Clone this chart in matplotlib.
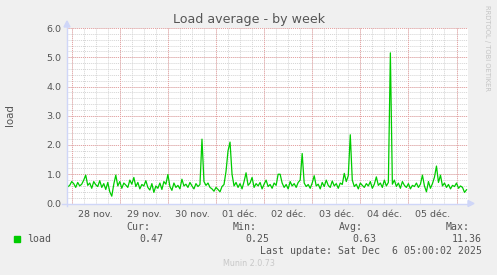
import matplotlib
matplotlib.use("Agg")
import matplotlib.pyplot as plt
from matplotlib.lines import Line2D
from matplotlib.patches import Polygon

# hourly load values, first sample 2 h before 28 nov. 00:00
load = [
    0.57, 0.62, 0.75, 0.68, 0.55, 0.72, 0.60, 0.66, 0.80, 0.97,
    0.62, 0.70, 0.52, 0.75, 0.64, 0.58, 0.78, 0.55, 0.68, 0.48,
    0.72, 0.40, 0.25, 0.66, 0.97, 0.60, 0.75, 0.52, 0.70, 0.63,
    0.55, 0.80, 0.66, 0.89, 0.58, 0.72, 0.50, 0.65, 0.60, 0.78,
    0.55, 0.46, 0.68, 0.38, 0.60, 0.52, 0.70, 0.48, 0.75, 0.66,
    0.99, 0.58, 0.45, 0.70, 0.55, 0.62, 0.50, 0.83, 0.60, 0.66,
    0.55, 0.72, 0.60, 0.50, 0.68, 0.58, 0.65, 2.20, 0.75, 0.62,
    0.70, 0.55, 0.50, 0.42, 0.55, 0.48, 0.40, 0.58, 0.65, 1.10,
    1.80, 2.10, 1.00, 0.60, 0.72, 0.55, 0.68, 0.50, 0.75, 1.05,
    0.62, 0.70, 0.89, 0.55, 0.68, 0.60, 0.72, 0.50, 0.66, 0.80,
    0.58, 0.65, 0.52, 0.70, 0.62, 1.00, 1.00, 0.70, 0.55, 0.65,
    0.50, 0.75, 0.60, 0.68, 0.55, 0.72, 0.80, 1.71, 0.70, 0.58,
    0.65, 0.52, 0.70, 0.95, 0.60, 0.66, 0.50, 0.72, 0.58, 0.80,
    0.62, 0.55, 0.77, 0.60, 0.68, 0.52, 0.70, 0.65, 1.03, 0.75,
    0.95, 2.35, 0.80, 0.58, 0.66, 0.50, 0.70, 0.62, 0.55, 0.68,
    0.60, 0.75, 0.52, 0.66, 0.91, 0.62, 0.70, 0.55, 0.80, 0.60,
    0.72, 5.15, 0.66, 0.80, 0.58, 0.70, 0.52, 0.75, 0.62, 0.55,
    0.68, 0.50, 0.62, 0.58, 0.70, 0.55, 0.66, 0.97, 0.60, 0.40,
    0.75, 0.52, 0.68, 0.90, 1.28, 0.72, 0.97, 0.60, 0.70, 0.55,
    0.65, 0.50, 0.62, 0.58, 0.70, 0.52, 0.60, 0.55, 0.38, 0.47,
]
day_labels = ["28 nov.", "29 nov.", "30 nov.", "01 déc.",
              "02 déc.", "03 déc.", "04 déc.", "05 déc."]
y_labels = ["0.0", "1.0", "2.0", "3.0", "4.0", "5.0", "6.0"]
stats_names = ["Cur:", "Min:", "Avg:", "Max:"]
stats_values = ["0.47", "0.25", "0.63", "11.36"]

W, H = 497, 275
def fx(px):
    return px / W
def fy(py):
    return 1 - py / H

txt = "#555555"
fig = plt.figure(figsize=(W / 100, H / 100), dpi=100, facecolor="#f0f0f0")
ax = fig.add_axes([fx(67), fy(203.5), 401 / W, 175.5 / H])
ax.set_facecolor("white")

t = [(i - 2) / 24 for i in range(len(load))]
ax.set_xlim(-0.0977, 8.239)
ax.set_ylim(0, 6)

# minor grid
dot = (0, (1, 1))
for k in range(-1, 34):
    ax.axvline(k / 4, color="#d4d4d4", lw=0.7, ls=dot, zorder=0)
for k in range(31):
    ax.axhline(k * 0.2, color="#d4d4d4", lw=0.7, ls=dot, zorder=0)
# major grid
for d in range(9):
    ax.axvline(d, color="#e8a0a0", lw=0.7, ls=dot, zorder=1)
for v in range(7):
    ax.axhline(v, color="#e8a0a0", lw=0.7, ls=dot, zorder=1)

ax.plot(t, load, color="#00cc00", lw=0.9, zorder=3)

for s in ax.spines.values():
    s.set_visible(False)
ax.set_xticks([d + 0.5 for d in range(8)])
ax.set_xticklabels(day_labels)
ax.set_yticks(range(7))
ax.set_yticklabels(y_labels)
ax.tick_params(length=0, labelsize=6.8, colors=txt, pad=4)
ax.tick_params(axis="x", pad=5)

# axes with arrows
blue = "#cfd6f8"
fig.add_artist(Line2D([fx(62), fx(470)], [fy(203.5), fy(203.5)], color=blue, lw=1))
fig.add_artist(Line2D([fx(67), fx(67)], [fy(206), fy(25)], color=blue, lw=1))
fig.add_artist(Polygon([[fx(468), fy(200.5)], [fx(474), fy(203.5)], [fx(468), fy(206.5)]],
                       closed=True, color=blue, transform=fig.transFigure))
fig.add_artist(Polygon([[fx(64), fy(27)], [fx(67), fy(21)], [fx(70), fy(27)]],
                       closed=True, color=blue, transform=fig.transFigure))

fig.text(fx(249), fy(19), "Load average - by week", ha="center", va="center",
         fontsize=9.1, color=txt)
fig.text(fx(10), fy(115), "load", rotation=90, ha="center", va="center",
         fontsize=7.4, color=txt)
fig.text(fx(487.5), fy(5), "RRDTOOL / TOBI OETIKER", rotation=-90, ha="center",
         va="top", fontsize=4.9, color="#c4c4c4")

mono = "DejaVu Sans Mono"
fig.patches.append(Polygon([[fx(14), fy(236)], [fx(20), fy(236)], [fx(20), fy(242)], [fx(14), fy(242)]],
                           closed=True, color="#00cc00", transform=fig.transFigure))
fig.text(fx(27), fy(239), "load", family=mono, fontsize=7.1, color=txt, va="center")
name_x = [150, 257, 363, 470]
val_x = [163, 269.5, 376, 482]
for n, v, nx, vx in zip(stats_names, stats_values, name_x, val_x):
    fig.text(fx(nx), fy(227.5), n, family=mono, fontsize=7.1, color=txt, ha="right", va="center")
    fig.text(fx(vx), fy(239), v, family=mono, fontsize=7.1, color=txt, ha="right", va="center")
fig.text(fx(482), fy(251.5), "Last update: Sat Dec  6 05:00:02 2025", family=mono,
         fontsize=7.1, color=txt, ha="right", va="center")
fig.text(fx(248.5), fy(264), "Munin 2.0.73", fontsize=5.8, color="#c8c8c8",
         ha="center", va="center")

fig.savefig("out.png", dpi=100, facecolor=fig.get_facecolor())
